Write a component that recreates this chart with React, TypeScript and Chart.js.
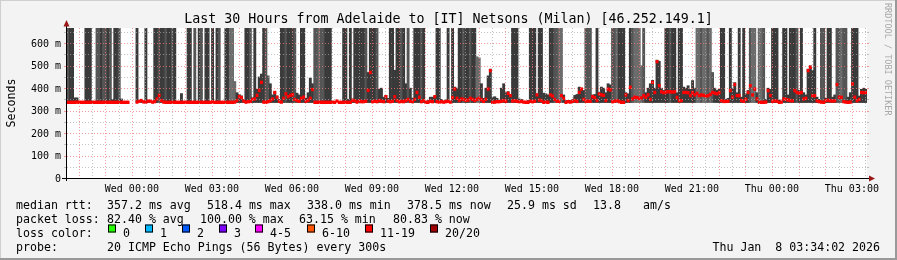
import React, { useEffect, useRef } from "react";
import { Chart, registerables } from "chart.js";
Chart.register(...registerables);

const W = 897;
const H = 260;

const titleText = "Last 30 Hours from Adelaide to [IT] Netsons (Milan) [46.252.149.1]";
// hours relative to Wed 00:00
const startHour = -(2 + 25 / 60 + 58 / 3600); // Tue 21:34:02
const endHour = 27 + 34 / 60 + 2 / 3600; // Thu 03:34:02
const stepHours = 5 / 60;
const yMaxMs = 668;
const minRttMs = 336;

const timeTickHours = [0, 3, 6, 9, 12, 15, 18, 21, 24, 27];
const timeTickLabels = ["Wed 00:00", "Wed 03:00", "Wed 06:00", "Wed 09:00", "Wed 12:00", "Wed 15:00", "Wed 18:00", "Wed 21:00", "Thu 00:00", "Thu 03:00"];
const yTickValues = [0, 100, 200, 300, 400, 500, 600];
const yTickLabels = ["0", "100 m", "200 m", "300 m", "400 m", "500 m", "600 m"];

// median rtt per 5-minute step (ms), null = 20/20 lost
const medianMs = [
  337,337,337,337,338,337,337,337,337,337,337,337,337,337,337,337,337,337,337,337,
  337,337,337,337,337,337,337,337,null,null,null,338,342,345,339,338,343,342,338,340,
  352,368,345,338,337,337,337,337,337,337,337,337,337,337,337,337,337,337,337,337,
  337,337,337,337,337,339,337,337,337,337,337,337,337,337,337,338,345,362,358,343,
  338,340,341,350,352,368,390,426,338,337,340,345,352,381,360,342,338,355,375,362,
  368,371,350,345,342,355,360,342,346,355,394,337,337,337,337,337,337,337,337,337,
  337,343,337,337,337,337,337,337,346,344,338,344,340,340,342,390,470,340,342,340,
  345,342,340,362,343,340,342,362,345,340,341,340,345,350,342,340,350,381,360,340,
  345,337,337,342,340,362,340,338,340,338,340,342,338,358,396,355,345,352,350,346,
  347,355,350,345,350,355,348,341,350,396,478,337,338,340,340,342,345,342,377,367,
  343,344,342,340,341,338,337,337,342,340,342,370,347,345,337,338,337,370,365,350,
  342,342,367,355,337,340,338,342,345,341,381,396,350,343,342,342,362,358,345,374,
  370,368,345,396,392,340,342,345,340,337,337,370,345,404,352,360,358,355,356,367,
  360,370,350,426,381,518,411,384,380,383,384,384,383,384,359,344,345,381,381,380,
  367,381,370,377,367,370,368,365,367,372,381,378,375,381,345,341,341,342,389,360,
  416,367,367,345,342,350,381,411,370,396,352,337,337,337,338,389,367,342,344,342,
  337,338,352,350,347,345,344,389,381,378,381,352,355,478,493,367,366,344,340,338,
  337,345,346,344,343,344,416,360,359,340,338,337,338,419,360,344,350,381,380,381,
];

// highest rtt per step (ms); 700 = above graph top, null = no smoke
const maxRttMs = [
  700,700,700,357,357,null,null,null,700,700,700,null,null,700,700,700,700,700,700,700,
  350,700,700,700,352,null,null,null,null,null,null,700,null,348,null,700,345,null,null,700,
  700,700,700,700,700,700,700,700,700,null,null,376,null,null,700,700,null,700,null,700,
  700,null,700,700,null,700,null,700,700,null,null,700,700,700,700,430,380,372,366,350,
  700,700,700,360,700,395,450,463,700,700,455,420,370,385,365,350,700,700,700,700,
  700,700,700,378,370,700,700,355,380,445,420,700,700,700,700,700,700,700,700,null,
  null,null,null,null,700,700,350,700,352,700,700,700,700,700,700,470,700,700,700,700,
  395,400,360,368,355,700,700,480,700,700,700,700,420,700,400,355,700,700,700,700,
  700,null,345,360,360,365,700,700,350,null,348,700,null,700,405,400,700,700,700,700,
  700,700,700,700,540,535,420,355,400,455,485,360,362,355,null,400,420,380,385,372,
  700,700,700,352,350,null,null,345,700,700,700,375,700,700,378,375,370,700,700,700,
  700,700,700,370,345,null,345,350,368,372,405,400,390,700,700,700,370,372,700,380,
  405,400,380,420,415,700,700,700,700,700,700,380,375,700,700,700,700,700,500,700,
  380,400,420,435,400,525,520,400,390,700,700,700,700,700,380,700,700,405,400,411,
  395,434,400,700,700,700,700,700,700,700,470,400,390,395,700,700,350,355,700,400,
  425,380,700,360,700,375,390,700,700,700,380,700,700,700,350,400,395,700,700,700,
  348,null,700,700,370,700,700,700,700,390,700,380,370,485,500,480,700,360,350,700,
  700,355,700,700,360,370,700,700,700,700,700,360,380,700,700,700,365,395,400,395,
];

// pings received out of 20 per step
const pingsReceived = [
  3,2,2,2,2,1,1,1,2,2,2,1,1,3,3,2,3,3,2,3,
  2,2,2,3,2,1,1,1,0,0,0,2,1,2,1,2,2,1,1,2,
  2,3,2,2,3,2,2,3,2,1,1,2,1,1,2,2,1,3,1,2,
  3,1,2,2,1,2,1,2,3,1,1,2,2,4,4,4,2,2,2,2,
  2,2,3,2,2,2,2,2,2,3,3,2,2,2,2,2,2,2,3,2,
  2,2,3,2,2,2,2,2,2,2,2,3,3,4,3,3,2,2,2,1,
  1,1,1,1,2,2,2,2,2,2,2,2,2,2,3,2,2,2,2,3,
  2,2,2,2,2,2,2,2,2,2,3,2,2,3,2,2,2,2,2,3,
  2,1,2,2,2,2,2,2,2,1,2,2,1,2,2,2,2,2,3,2,
  2,3,2,2,4,4,2,2,2,2,2,2,2,2,1,2,2,2,2,2,
  2,2,2,2,2,1,1,2,2,2,2,2,2,2,2,2,2,2,2,3,
  3,4,4,2,2,1,2,2,2,2,2,2,2,3,3,3,2,2,2,2,
  2,2,2,2,2,3,3,4,2,2,2,2,2,2,3,4,4,4,4,3,
  2,2,2,2,2,2,2,2,2,2,2,3,2,2,2,2,2,2,2,2,
  2,2,2,4,4,3,4,4,3,4,3,2,2,2,2,2,2,2,2,2,
  2,2,2,2,2,2,2,3,4,4,2,4,4,3,2,2,2,2,2,2,
  2,1,2,2,2,2,2,2,3,2,2,2,2,2,2,2,2,2,2,3,
  3,2,2,2,2,2,3,3,4,3,3,2,2,2,2,2,2,2,2,2,
];

const medianLabel = "median rtt:";
const medianStats = ["357.2 ms avg", "518.4 ms max", "338.0 ms min", "378.5 ms now", "25.9 ms sd", "13.8", "am/s"];
const lossLabel = "packet loss:";
const lossStats = ["82.40 % avg", "100.00 % max", "63.15 % min", "80.83 % now"];
const lossColorLabel = "loss color:";
const lossBins = ["0", "1", "2", "3", "4-5", "6-10", "11-19", "20/20"];
const lossBinColors = ["#26ff00", "#00b8ff", "#0059ff", "#7e00ff", "#ff00ff", "#ff5500", "#ff0000", "#a00000"];
const probeLabel = "probe:";
const probeText = "20 ICMP Echo Pings (56 Bytes) every 300s";
const stampText = "Thu Jan  8 03:34:02 2026";
const sideText = "RRDTOOL / TOBI OETIKER";
const yTitle = "Seconds";

const MONO = '"DejaVu Sans Mono", "Liberation Mono", monospace';

function smokeColor(recv: number) {
  if (recv >= 4) return "#6c6c6c";
  if (recv === 3) return "#555555";
  return "#3a3a3a";
}

const MAJOR_GRID = "rgba(240,120,120,0.75)";
const MINOR_GRID = "rgba(170,170,170,0.7)";

const rrdPlugin = {
  id: "rrdLook",
  beforeDraw(chart: any) {
    const { ctx, chartArea: a } = chart;
    ctx.save();
    ctx.fillStyle = "#f3f3f3";
    ctx.fillRect(0, 0, W, H);
    ctx.fillStyle = "#cfcfcf";
    ctx.fillRect(0, 0, W, 1);
    ctx.fillRect(0, 0, 1, H);
    ctx.fillStyle = "#999999";
    ctx.fillRect(0, H - 2, W, 2);
    ctx.fillRect(W - 2, 0, 2, H);
    ctx.fillStyle = "#ffffff";
    ctx.fillRect(a.left, a.top, a.right - a.left, a.bottom - a.top);
    ctx.restore();
  },
  afterDatasetsDraw(chart: any) {
    const { ctx, chartArea: a, scales } = chart;
    const xs = scales.x;
    const ys = scales.y;
    ctx.save();
    // grid
    ctx.lineWidth = 1;
    ctx.setLineDash([1, 2]);
    const firstHalf = Math.ceil(startHour * 2) / 2;
    for (let h = firstHalf; h < endHour; h += 0.5) {
      const px = Math.round(xs.getPixelForValue(h)) + 0.5;
      const major = Math.abs(h - Math.round(h)) < 1e-6;
      ctx.strokeStyle = major ? MAJOR_GRID : MINOR_GRID;
      ctx.beginPath();
      ctx.moveTo(px, a.top);
      ctx.lineTo(px, a.bottom);
      ctx.stroke();
    }
    for (let v = 50; v < yMaxMs; v += 50) {
      const py = Math.round(ys.getPixelForValue(v)) + 0.5;
      const major = v % 100 === 0;
      ctx.strokeStyle = major ? MAJOR_GRID : MINOR_GRID;
      ctx.beginPath();
      ctx.moveTo(a.left, py);
      ctx.lineTo(a.right, py);
      ctx.stroke();
    }
    ctx.setLineDash([]);
    // small ticks beside the plot
    for (let v = 50; v < yMaxMs; v += 50) {
      const py = Math.round(ys.getPixelForValue(v)) + 0.5;
      const major = v % 100 === 0;
      ctx.strokeStyle = major ? MAJOR_GRID : MINOR_GRID;
      ctx.beginPath();
      ctx.moveTo(a.left - 3, py);
      ctx.lineTo(a.left - 1, py);
      ctx.moveTo(a.right, py);
      ctx.lineTo(a.right + 2, py);
      ctx.stroke();
    }
    // axes
    ctx.strokeStyle = "#000000";
    ctx.beginPath();
    ctx.moveTo(a.left - 0.5, a.top - 4);
    ctx.lineTo(a.left - 0.5, a.bottom + 3);
    ctx.moveTo(a.left - 5, a.bottom + 0.5);
    ctx.lineTo(a.right + 3, a.bottom + 0.5);
    ctx.stroke();
    // arrows
    ctx.fillStyle = "#9a1818";
    ctx.beginPath();
    ctx.moveTo(a.left - 0.5, a.top - 8);
    ctx.lineTo(a.left - 3.5, a.top - 1.5);
    ctx.lineTo(a.left + 2.5, a.top - 1.5);
    ctx.closePath();
    ctx.fill();
    ctx.beginPath();
    ctx.moveTo(a.right + 8, a.bottom + 0.5);
    ctx.lineTo(a.right + 2, a.bottom - 2.5);
    ctx.lineTo(a.right + 2, a.bottom + 3.5);
    ctx.closePath();
    ctx.fill();

    ctx.fillStyle = "#000000";
    // title
    ctx.font = `13.3px ${MONO}`;
    ctx.textAlign = "center";
    ctx.textBaseline = "alphabetic";
    ctx.fillText(titleText, W / 2, 23);
    // x tick labels
    ctx.font = `10px ${MONO}`;
    timeTickHours.forEach((h, i) => {
      ctx.fillText(timeTickLabels[i], xs.getPixelForValue(h), 191.5);
    });
    // y tick labels
    ctx.textAlign = "right";
    yTickValues.forEach((v, i) => {
      ctx.fillText(yTickLabels[i], 61, ys.getPixelForValue(v) + 3.6);
    });
    // y title
    ctx.font = `11.6px ${MONO}`;
    ctx.save();
    ctx.translate(15, 103);
    ctx.rotate(-Math.PI / 2);
    ctx.textAlign = "center";
    ctx.fillText(yTitle, 0, 0);
    ctx.restore();
    // side text
    ctx.save();
    ctx.fillStyle = "#a8a8a8";
    ctx.font = `8.5px ${MONO}`;
    ctx.translate(885, 3);
    ctx.rotate(Math.PI / 2);
    ctx.textAlign = "left";
    ctx.fillText(sideText, 0, 0);
    ctx.restore();
    // legend
    ctx.textAlign = "left";
    ctx.font = `11.6px ${MONO}`;
    const medX = [107, 207, 307, 407, 507, 593, 643];
    ctx.fillText(medianLabel, 16, 208.5);
    medianStats.forEach((s, i) => ctx.fillText(s, medX[i], 208.5));
    const lossX = [107, 200, 299, 393];
    ctx.fillText(lossLabel, 16, 222.5);
    lossStats.forEach((s, i) => ctx.fillText(s, lossX[i], 222.5));
    ctx.fillText(lossColorLabel, 16, 236.5);
    const boxX = [108, 145, 182, 219, 255, 307, 365, 430];
    lossBins.forEach((b, i) => {
      ctx.fillStyle = lossBinColors[i];
      ctx.fillRect(boxX[i], 224.5, 8, 8);
      ctx.strokeStyle = "#000000";
      ctx.strokeRect(boxX[i] + 0.5, 225, 7, 7);
      ctx.fillStyle = "#000000";
      ctx.fillText(b, boxX[i] + 15, 236.5);
    });
    ctx.fillText(probeLabel, 16, 250.5);
    ctx.fillText(probeText, 107, 250.5);
    ctx.textAlign = "right";
    ctx.fillText(stampText, 880, 250.5);
    ctx.restore();
  },
};

export default function App() {
  const ref = useRef<HTMLCanvasElement | null>(null);
  useEffect(() => {
    document.body.style.margin = "0";
    const canvas = ref.current;
    if (!canvas) return;
    const centers = medianMs.map((_, i) => startHour + (i + 0.5) * stepHours);
    const medianData: any[] = [];
    const smokeData: any[] = [];
    medianMs.forEach((m, i) => {
      if (m != null) medianData.push({ x: centers[i], y: [m - 6, m + 6] });
      const top = maxRttMs[i];
      if (top != null) smokeData.push({ x: centers[i], y: [minRttMs, top], r: pingsReceived[i] });
    });
    const chart = new Chart(canvas, {
      type: "bar",
      data: {
        datasets: [
          {
            label: "median",
            data: medianData,
            backgroundColor: "#ff0000",
            borderWidth: 0,
            grouped: false,
            barPercentage: 1,
            categoryPercentage: 1,
            order: 0,
          } as any,
          {
            label: "smoke",
            data: smokeData,
            backgroundColor: (c: any) => smokeColor(c.raw ? c.raw.r : 2),
            borderWidth: 0,
            grouped: false,
            barPercentage: 1,
            categoryPercentage: 1,
            order: 1,
          } as any,
        ],
      },
      options: {
        responsive: false,
        animation: false,
        devicePixelRatio: 1,
        layout: { padding: { left: 67, right: 30, top: 28, bottom: 82 } },
        scales: {
          x: { type: "linear", display: false, offset: false, bounds: "ticks", min: startHour, max: endHour, grace: 0 },
          y: { type: "linear", display: false, min: 0, max: yMaxMs },
        },
        plugins: { legend: { display: false }, tooltip: { enabled: false } },
      },
      plugins: [rrdPlugin],
    });
    return () => chart.destroy();
  }, []);
  return <canvas ref={ref} width={W} height={H} style={{ display: "block", width: W, height: H }} />;
}
